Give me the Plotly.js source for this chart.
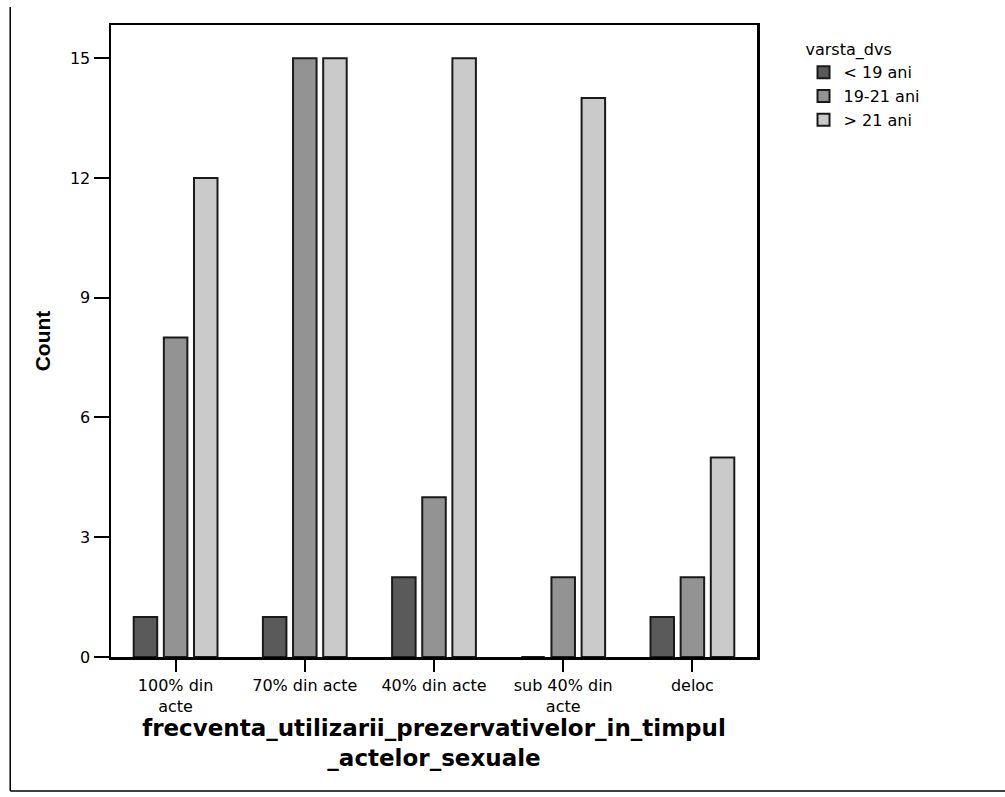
<!DOCTYPE html>
<html>
<head>
<meta charset="utf-8">
<script src="https://cdn.plot.ly/plotly-3.0.1.min.js"></script>
<style>html,body{margin:0;padding:0;background:#fff;}</style>
</head>
<body>
<div id="chart" style="width:1005px;height:797px;"></div>
<script>
const categories = ["100% din<br>acte", "70% din acte", "40% din acte", "sub 40% din<br>acte", "deloc"];
const seriesNames = ["< 19 ani", "19-21 ani", "> 21 ani"];
const under19 = [1, 1, 2, 0, 1];
const age19to21 = [8, 15, 4, 2, 2];
const over21 = [12, 15, 15, 14, 5];
const yTicks = [0, 3, 6, 9, 12, 15];

const colors = ["#5a5a5a", "#939393", "#cacaca"];
const values = [under19, age19to21, over21];

const traces = values.map((v, i) => ({
  type: "bar",
  name: seriesNames[i],
  x: categories,
  y: v,
  marker: {color: colors[i], line: {color: "#1a1a1a", width: 2}},
  hoverinfo: "x+y+name"
}));

const font = "DejaVu Sans, Arial, sans-serif";
const fontArial = "Liberation Sans, Arial, sans-serif";

const layout = {
  width: 1005,
  height: 797,
  margin: {l: 111, r: 248, t: 25, b: 140},
  paper_bgcolor: "#ffffff",
  plot_bgcolor: "#ffffff",
  barmode: "group",
  bargap: 0.30,
  bargroupgap: 0.22,
  showlegend: true,
  font: {family: font, color: "#000000", size: 16},
  xaxis: {
    type: "category",
    range: [-0.5, 4.5],
    showline: true, linecolor: "#000000", linewidth: 2.5, mirror: true,
    ticks: "outside", ticklen: 12, tickwidth: 2, tickcolor: "#000000",
    showgrid: false, zeroline: false,
    tickfont: {family: font, size: 16, color: "#000000"},
    title: {text: "frecventa_utilizarii_prezervativelor_in_timpul<br>_actelor_sexuale",
            font: {family: font, size: 23, color: "#000000", weight: "bold"}, standoff: 5}
  },
  yaxis: {
    range: [0, 15.83],
    tickvals: yTicks,
    ticktext: yTicks.map(String),
    showline: true, linecolor: "#000000", linewidth: 2.5, mirror: true,
    ticks: "outside", ticklen: 15, tickwidth: 2, tickcolor: "#000000",
    showgrid: false, zeroline: false,
    tickfont: {family: font, size: 16, color: "#000000"},
    title: {text: "Count", font: {family: fontArial, size: 21, color: "#000000", weight: "bold"}, standoff: 14}
  },
  legend: {
    x: 1.072, y: 0.985, xanchor: "left", yanchor: "top",
    title: {text: "varsta_dvs", font: {family: font, size: 16, color: "#000000"}},
    font: {family: font, size: 16, color: "#000000"},
    tracegroupgap: 0,
    bgcolor: "rgba(0,0,0,0)"
  },
  shapes: [
    {type: "line", xref: "paper", yref: "paper", x0: -0.156, x1: -0.156, y0: 1.0285, y1: -0.212,
     line: {color: "#000000", width: 1.5}},
    {type: "line", xref: "paper", yref: "paper", x0: -0.156, x1: 1.384, y0: -0.212, y1: -0.212,
     line: {color: "#000000", width: 1.5}}
  ]
};

Plotly.newPlot("chart", traces, layout, {displayModeBar: false, staticPlot: true});
</script>
</body>
</html>
